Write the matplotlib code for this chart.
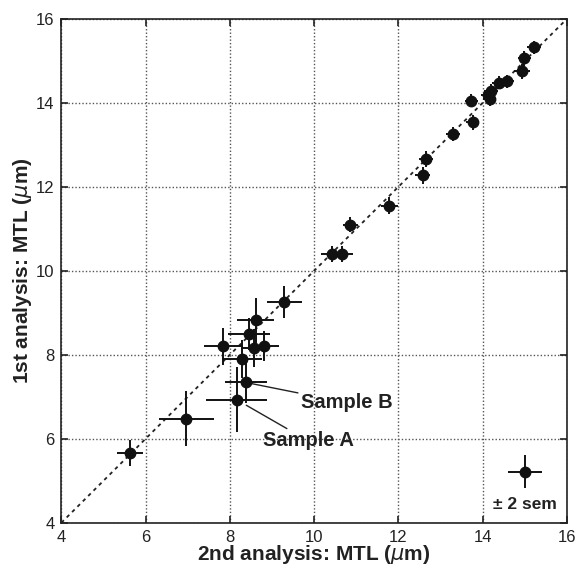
import numpy as np
import matplotlib.pyplot as plt

plt.rcParams['font.family'] = ['Liberation Sans', 'DejaVu Sans']

# MTL values (um): x = 2nd analysis, y = 1st analysis, errors = 2 sem
mtl_2nd = [5.63, 6.97, 8.16, 8.38, 8.29, 7.84, 8.57, 8.81, 8.45, 8.61, 9.29,
           10.42, 10.67, 10.86, 11.78, 12.57, 12.66, 13.29, 13.76, 13.73,
           14.12, 14.20, 14.16, 14.38, 14.57, 14.93, 14.99, 15.22]
mtl_1st = [5.66, 6.48, 6.93, 7.34, 7.90, 8.20, 8.17, 8.20, 8.50, 8.82, 9.25,
           10.40, 10.40, 11.10, 11.55, 12.27, 12.66, 13.26, 13.53, 14.05,
           14.18, 14.28, 14.10, 14.48, 14.51, 14.75, 15.06, 15.32]
err_2nd = [0.30, 0.65, 0.73, 0.50, 0.48, 0.46, 0.30, 0.36, 0.49, 0.43, 0.42,
           0.25, 0.25, 0.18, 0.20, 0.17, 0.17, 0.16, 0.16, 0.16,
           0.16, 0.16, 0.16, 0.16, 0.16, 0.18, 0.16, 0.16]
err_1st = [0.30, 0.65, 0.78, 0.48, 0.45, 0.44, 0.45, 0.36, 0.38, 0.53, 0.38,
           0.20, 0.20, 0.18, 0.20, 0.20, 0.18, 0.16, 0.18, 0.16,
           0.16, 0.16, 0.18, 0.16, 0.16, 0.18, 0.18, 0.16]

# scale key
key_x, key_y, key_xerr, key_yerr = 15.0, 5.22, 0.40, 0.39

fig = plt.figure(figsize=(5.84, 5.67), dpi=100)
ax = fig.add_axes([0.105, 0.078, 0.866, 0.889])

ax.plot([4, 16], [4, 16], color='#222222', lw=1.3, ls=(0, (2, 2.2)), zorder=1)

ax.errorbar(mtl_2nd, mtl_1st, xerr=err_2nd, yerr=err_1st, fmt='o',
            color='#111111', ms=7.5, elinewidth=1.4, capsize=0, zorder=3)
ax.errorbar([key_x], [key_y], xerr=[key_xerr], yerr=[key_yerr], fmt='o',
            color='#111111', ms=7.5, elinewidth=1.4, capsize=0, zorder=3)
ax.text(key_x, 4.43, '± 2 sem', ha='center', va='center',
        fontsize=12.5, fontweight='bold', color='#222222')

ax.annotate('Sample B', xy=(8.38, 7.34), xytext=(9.68, 6.86),
            ha='left', va='center', fontsize=14.5, fontweight='bold', color='#222222',
            arrowprops=dict(arrowstyle='-', color='#222222', lw=1.0, shrinkA=0, shrinkB=3))
ax.annotate('Sample A', xy=(8.16, 6.93), xytext=(8.78, 5.95),
            ha='left', va='center', fontsize=14.5, fontweight='bold', color='#222222',
            arrowprops=dict(arrowstyle='-', color='#222222', lw=1.0, shrinkA=0, shrinkB=8))

ax.set_xlim(4, 16)
ax.set_ylim(4, 16)
ticks = np.arange(4, 17, 2)
ax.set_xticks(ticks)
ax.set_yticks(ticks)
ax.grid(True, color='#555555', ls=(0, (1, 1.5)), lw=1.0)
ax.set_axisbelow(True)
ax.tick_params(direction='in', length=5, width=1.2, labelsize=12,
               top=True, right=True, colors='#222222', pad=5)
for s in ax.spines.values():
    s.set_linewidth(1.2)
    s.set_color('#222222')

ax.set_xlabel('2nd analysis: MTL ($\\mathit{\\mu}$m)', fontsize=15, fontweight='bold',
              color='#222222', labelpad=-1)
ax.set_ylabel('1st analysis: MTL ($\\mathit{\\mu}$m)', fontsize=15, fontweight='bold',
              color='#222222', labelpad=1)

fig.savefig('out.png', dpi=100)
